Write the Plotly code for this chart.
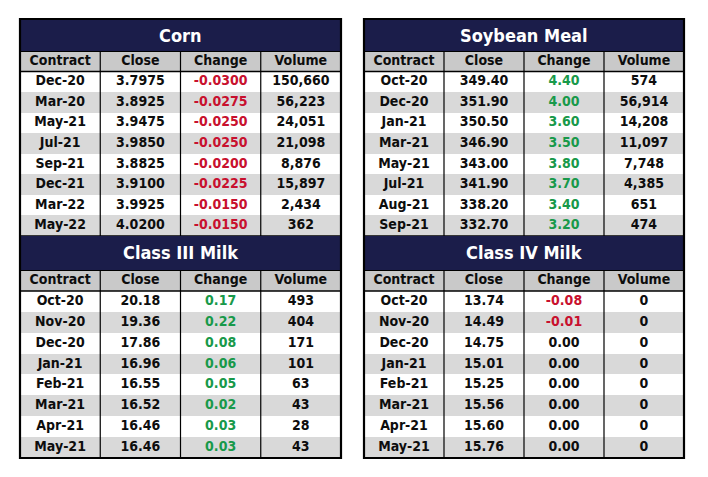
import plotly.graph_objects as go

# ---------------- data ----------------
corn_contract = ["Dec-20", "Mar-20", "May-21", "Jul-21", "Sep-21", "Dec-21", "Mar-22", "May-22"]
corn_close = [3.7975, 3.8925, 3.9475, 3.9850, 3.8825, 3.9100, 3.9925, 4.0200]
corn_change = [-0.0300, -0.0275, -0.0250, -0.0250, -0.0200, -0.0225, -0.0150, -0.0150]
corn_volume = [150660, 56223, 24051, 21098, 8876, 15897, 2434, 362]

soy_contract = ["Oct-20", "Dec-20", "Jan-21", "Mar-21", "May-21", "Jul-21", "Aug-21", "Sep-21"]
soy_close = [349.40, 351.90, 350.50, 346.90, 343.00, 341.90, 338.20, 332.70]
soy_change = [4.40, 4.00, 3.60, 3.50, 3.80, 3.70, 3.40, 3.20]
soy_volume = [574, 56914, 14208, 11097, 7748, 4385, 651, 474]

c3_contract = ["Oct-20", "Nov-20", "Dec-20", "Jan-21", "Feb-21", "Mar-21", "Apr-21", "May-21"]
c3_close = [20.18, 19.36, 17.86, 16.96, 16.55, 16.52, 16.46, 16.46]
c3_change = [0.17, 0.22, 0.08, 0.06, 0.05, 0.02, 0.03, 0.03]
c3_volume = [493, 404, 171, 101, 63, 43, 28, 43]

c4_contract = ["Oct-20", "Nov-20", "Dec-20", "Jan-21", "Feb-21", "Mar-21", "Apr-21", "May-21"]
c4_close = [13.74, 14.49, 14.75, 15.01, 15.25, 15.56, 15.60, 15.76]
c4_change = [-0.08, -0.01, 0.00, 0.00, 0.00, 0.00, 0.00, 0.00]
c4_volume = [0, 0, 0, 0, 0, 0, 0, 0]

columns = ["Contract", "Close", "Change", "Volume"]

# ---------------- style ----------------
FONT = "DejaVu Sans Condensed, Liberation Sans Narrow, Arial Narrow, sans-serif"
NAVY = "#1b1d4a"
HEAD_GRAY = "#c9c9c9"
ROW_GRAY = "#d9d9d9"
RED = "#c8102e"
GREEN = "#18994a"
BLACK = "#0d0d0d"
CELL_SIZE = 14
TITLE_SIZE = 18

# the page body has an 8px margin; figure is placed at (8, 8)
OFF = 8
W, H = 700, 469


def px(x):
    return (x - OFF) / W


def py(y):
    return 1 - (y - OFF) / H


fig = go.Figure()
shapes = []
annotations = []
layout_axes = {}


def change_color(v):
    if v < 0:
        return RED
    if v > 0:
        return GREEN
    return BLACK


def add_block(idx, title, contract, close, change, volume, dec, x0, x1, ytop, title_h, ybottom):
    n = len(contract)
    y_head = ytop + title_h
    xa = "x%d" % idx if idx > 1 else "x"
    ya = "y%d" % idx if idx > 1 else "y"
    xkey = "xaxis%d" % idx if idx > 1 else "xaxis"
    ykey = "yaxis%d" % idx if idx > 1 else "yaxis"
    layout_axes[xkey] = dict(domain=[px(x0), px(x1)], range=[-0.5, 3.5], visible=False,
                             fixedrange=True, anchor=ya)
    layout_axes[ykey] = dict(domain=[py(ybottom), py(y_head)], range=[n - 0.5, -1.5], visible=False,
                             fixedrange=True, anchor=xa)

    # title bar
    shapes.append(dict(type="rect", xref="paper", yref="paper", x0=px(x0), x1=px(x1),
                       y0=py(y_head), y1=py(ytop), fillcolor=NAVY, line=dict(width=0), layer="below"))
    annotations.append(dict(xref="paper", yref="paper", x=px((x0 + x1) / 2), y=py(ytop + title_h / 2),
                            text=title, showarrow=False, xanchor="center", yanchor="middle",
                            font=dict(family=FONT, size=TITLE_SIZE, color="white", weight="bold")))

    # cell backgrounds: header row (-1) and alternating body rows
    rows = list(range(-1, n))
    z = [[2] * 4] + [[i % 2] * 4 for i in range(n)]
    fig.add_trace(go.Heatmap(x=[0, 1, 2, 3], y=rows, z=z, zmin=0, zmax=2,
                             colorscale=[[0, "white"], [0.5, ROW_GRAY], [1, HEAD_GRAY]],
                             showscale=False, hoverinfo="skip", xaxis=xa, yaxis=ya))

    # header text
    fig.add_trace(go.Scatter(x=[0, 1, 2, 3], y=[-1] * 4, text=columns, mode="text",
                             textposition="middle center", hoverinfo="skip", showlegend=False,
                             textfont=dict(family=FONT, size=CELL_SIZE, color=BLACK, weight="bold"),
                             xaxis=xa, yaxis=ya))

    # body text
    close_s = ["%.*f" % (dec, v) for v in close]
    change_s = ["%.*f" % (dec, v) for v in change]
    vol_s = ["{:,}".format(v) for v in volume]
    cols = [contract, close_s, change_s, vol_s]
    xs, ys, ts, cs = [], [], [], []
    for c in range(4):
        for r in range(n):
            xs.append(c)
            ys.append(r)
            ts.append(cols[c][r])
            cs.append(change_color(change[r]) if c == 2 else BLACK)
    fig.add_trace(go.Scatter(x=xs, y=ys, text=ts, mode="text", textposition="middle center",
                             hoverinfo="skip", showlegend=False,
                             textfont=dict(family=FONT, size=CELL_SIZE, color=cs, weight="bold"),
                             xaxis=xa, yaxis=ya))

    # grid lines
    for k in (0.5, 1.5, 2.5):
        shapes.append(dict(type="line", xref=xa, yref=ya, x0=k, x1=k, y0=-1.5, y1=n - 0.5,
                           line=dict(color="black", width=1.2)))
    shapes.append(dict(type="line", xref=xa, yref=ya, x0=-0.5, x1=3.5, y0=-1.5, y1=-1.5,
                       line=dict(color="black", width=2)))
    shapes.append(dict(type="line", xref=xa, yref=ya, x0=-0.5, x1=3.5, y0=-0.5, y1=-0.5,
                       line=dict(color="black", width=1.5)))
    shapes.append(dict(type="line", xref=xa, yref=ya, x0=-0.5, x1=3.5, y0=n - 0.5, y1=n - 0.5,
                       line=dict(color="black", width=1.5)))


blocks = [
    ((20, 341), ("Corn", corn_contract, corn_close, corn_change, corn_volume, 4),
     ("Class III Milk", c3_contract, c3_close, c3_change, c3_volume, 2)),
    ((364, 684), ("Soybean Meal", soy_contract, soy_close, soy_change, soy_volume, 2),
     ("Class IV Milk", c4_contract, c4_close, c4_change, c4_volume, 2)),
]

idx = 1
for (x0, x1), top, bottom in blocks:
    add_block(idx, *top, x0, x1, 19, 32, 236)
    idx += 1
    add_block(idx, *bottom, x0, x1, 236, 34, 458)
    idx += 1
    shapes.append(dict(type="rect", xref="paper", yref="paper", x0=px(x0), x1=px(x1),
                       y0=py(458), y1=py(19), line=dict(color="black", width=2.2)))

fig.update_layout(width=W, height=H, margin=dict(l=0, r=0, t=0, b=0),
                  paper_bgcolor="white", plot_bgcolor="white", showlegend=False,
                  shapes=shapes, annotations=annotations, **layout_axes)
fig.write_html("out.html", config={"displayModeBar": False, "staticPlot": True})
